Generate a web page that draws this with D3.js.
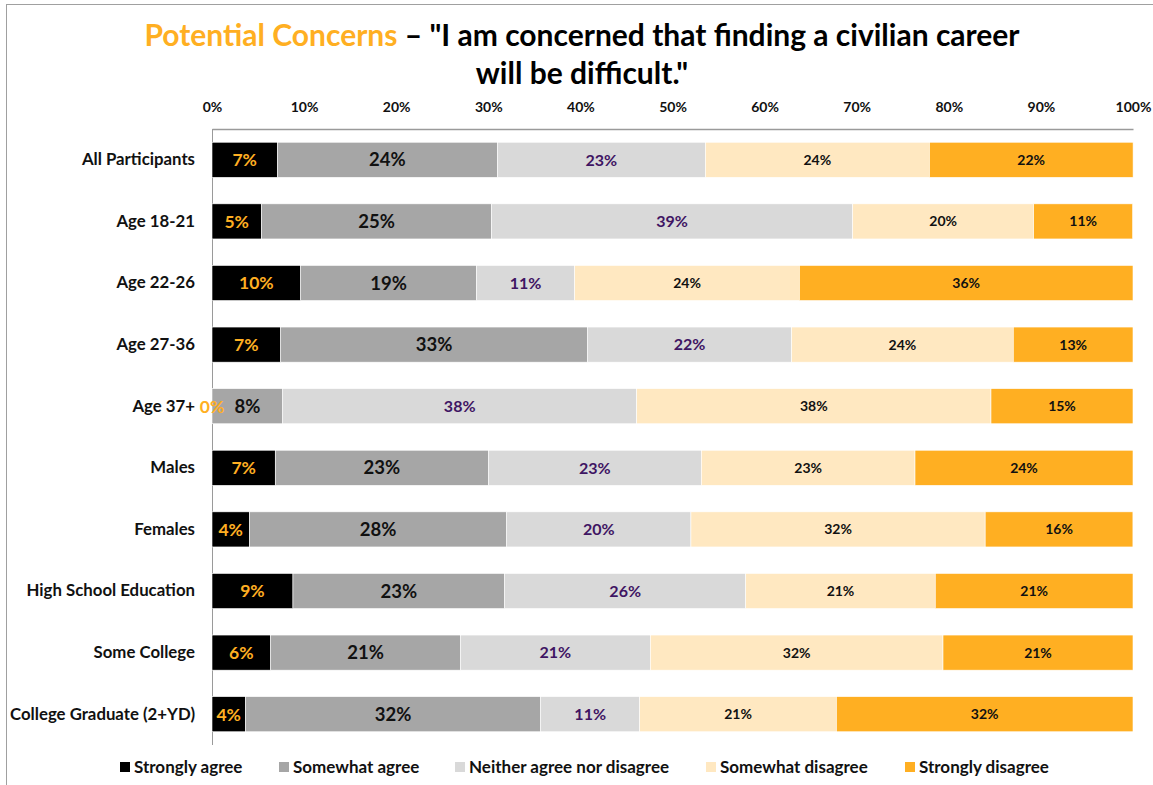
<!DOCTYPE html>
<html>
<head>
<meta charset="utf-8">
<script src="https://cdn.jsdelivr.net/npm/d3@7"></script>
<style>
  html, body { margin: 0; padding: 0; background: #fff; }
  svg { display: block; font-family: Lato, "Open Sans", sans-serif; }
</style>
</head>
<body>
<svg id="chart" width="1153" height="785"></svg>
<script>
// Survey groups, top to bottom
const groups = [
  "All Participants", "Age 18-21", "Age 22-26", "Age 27-36", "Age 37+",
  "Males", "Females", "High School Education", "Some College", "College Graduate (2+YD)"
];

// Response categories, left to right
const responses = [
  "Strongly agree", "Somewhat agree", "Neither agree nor disagree",
  "Somewhat disagree", "Strongly disagree"
];

// Share of respondents (%) per response, one value per group
const stronglyAgree    = [7.09, 5.36, 9.63, 7.46, 0.0, 6.87, 4.05, 8.79, 6.37, 3.62];
const somewhatAgree    = [23.9, 25.0, 19.07, 33.29, 7.68, 23.13, 27.95, 22.99, 20.59, 32.07];
const neither          = [22.58, 39.2, 10.68, 22.19, 38.43, 23.13, 20.0, 26.17, 20.63, 10.75];
const somewhatDisagree = [24.32, 19.65, 24.39, 24.06, 38.47, 23.2, 31.95, 20.58, 31.78, 21.35];
const stronglyDisagree = [22.12, 10.75, 36.23, 13.0, 15.42, 23.67, 16.04, 21.47, 20.63, 32.21];

const xTicks = [0, 10, 20, 30, 40, 50, 60, 70, 80, 90, 100];

const seriesValues = [stronglyAgree, somewhatAgree, neither, somewhatDisagree, stronglyDisagree];
const fills      = ["#000000", "#a6a6a6", "#d9d9d9", "#ffe8c1", "#ffaf22"];
const labelInk   = ["#ffaf22", "#111111", "#3f1563", "#111111", "#111111"];
const labelSize  = [17.5, 18.5, 16, 14, 14];

const rows = groups.map((g, i) => {
  const r = { group: g };
  responses.forEach((k, j) => { r[k] = seriesValues[j][i]; });
  return r;
});
const stacked = d3.stack().keys(responses)(rows);

const svg = d3.select("#chart");

// outer frame
svg.append("rect")
  .attr("x", 6.5).attr("y", 4.5).attr("width", 1300).attr("height", 1000)
  .attr("fill", "none").attr("stroke", "#a0a0a0").attr("stroke-width", 1);

// title
const title = svg.append("text")
  .attr("x", 582).attr("y", 46)
  .attr("text-anchor", "middle")
  .attr("font-size", 30).attr("font-weight", 700);
title.append("tspan").attr("fill", "#ffaf22").text("Potential Concerns");
title.append("tspan").attr("fill", "#000").text("  \u2013 \"I am concerned that finding a civilian career");
svg.append("text")
  .attr("x", 582).attr("y", 84)
  .attr("text-anchor", "middle")
  .attr("font-size", 30).attr("font-weight", 700).attr("fill", "#000")
  .text("will be difficult.\"");

const x = d3.scaleLinear().domain([0, 100]).range([212, 1133]);
const y = d3.scaleBand().domain(groups).range([129, 745]).paddingInner(0.43).paddingOuter(0.215);

// top axis with percent ticks
const xAxis = svg.append("g")
  .attr("transform", "translate(0,129)")
  .call(d3.axisTop(x).tickValues(xTicks).tickSize(0).tickPadding(17).tickFormat(d => d + "%"));
xAxis.select(".domain").attr("stroke", "#9a9a9a").attr("stroke-width", 1.5);
xAxis.selectAll("text").attr("font-size", 14).attr("font-weight", 700).attr("fill", "#111")
  .attr("font-family", "Lato, sans-serif");

// left axis with group names
const yAxis = svg.append("g")
  .attr("transform", "translate(212,0)")
  .call(d3.axisLeft(y).tickSize(0).tickPadding(17));
yAxis.select(".domain").remove();
yAxis.selectAll("text").attr("font-size", 16.8).attr("font-weight", 700).attr("fill", "#111")
  .attr("font-family", "Lato, sans-serif");
svg.append("line")
  .attr("x1", 212.5).attr("x2", 212.5).attr("y1", 129).attr("y2", 745)
  .attr("stroke", "#9a9a9a").attr("stroke-width", 1);

// stacked bar segments
const layers = svg.append("g").selectAll("g")
  .data(stacked).join("g")
  .attr("fill", (d, i) => fills[i]);

layers.selectAll("rect")
  .data(d => d).join("rect")
  .attr("x", d => x(d[0]))
  .attr("y", d => y(d.data.group))
  .attr("width", d => x(d[1]) - x(d[0]))
  .attr("height", y.bandwidth())
  .attr("stroke", "#ffffff").attr("stroke-width", 0.6);

// value labels centred in each segment
const labels = svg.append("g").selectAll("g")
  .data(stacked).join("g")
  .attr("fill", (d, i) => labelInk[i])
  .attr("font-size", (d, i) => labelSize[i]);

labels.selectAll("text")
  .data(d => d).join("text")
  .attr("x", d => (x(d[0]) + x(d[1])) / 2)
  .attr("y", d => y(d.data.group) + y.bandwidth() / 2)
  .attr("dy", "0.36em")
  .attr("text-anchor", "middle")
  .attr("font-weight", 700)
  .text(d => d3.format(".0f")(d[1] - d[0]) + "%");

// legend
const legendX = [120, 279, 455, 706, 905];
const legend = svg.append("g").selectAll("g")
  .data(responses).join("g")
  .attr("transform", (d, i) => `translate(${legendX[i]},767)`);
legend.append("rect")
  .attr("x", 0).attr("y", -5).attr("width", 10).attr("height", 10)
  .attr("fill", (d, i) => fills[i]);
legend.append("text")
  .attr("x", 14).attr("dy", "0.36em")
  .attr("font-size", 17).attr("font-weight", 700).attr("fill", "#111")
  .text(d => d);
</script>
</body>
</html>
